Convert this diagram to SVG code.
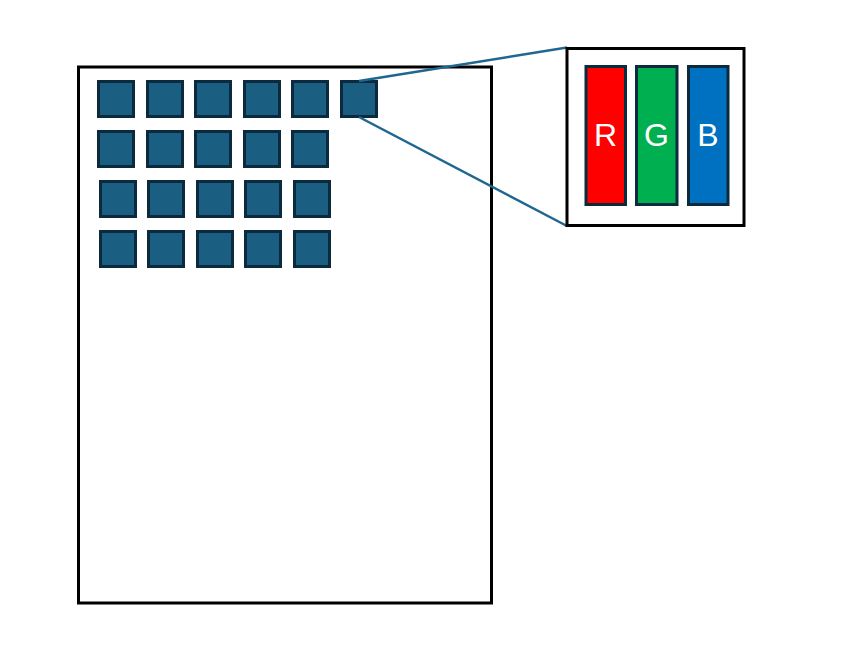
<svg xmlns="http://www.w3.org/2000/svg" width="866" height="670" viewBox="0 0 866 670">
<style>
.frame{fill:#fff;stroke:#000;stroke-width:3}
.px{fill:#1a5e82;stroke:#0c2a3e;stroke-width:3}
.sub{stroke:#0c2a3e;stroke-width:3}
.lbl{font-family:"Liberation Sans",Arial,sans-serif;font-size:32px;fill:#fff;text-anchor:middle}
.conn{stroke:#1f6690;stroke-width:2.5;fill:none}
</style>
<rect width="866" height="670" fill="#fff"/>
<g id="screen">
<rect class="frame" x="78.5" y="67" width="413" height="536"/>
</g>
<g id="pixels">
<rect class="px" x="98.5" y="81.5" width="35" height="35"/>
<rect class="px" x="147.5" y="81.5" width="35" height="35"/>
<rect class="px" x="195.5" y="81.5" width="35" height="35"/>
<rect class="px" x="244.5" y="81.5" width="35" height="35"/>
<rect class="px" x="292.5" y="81.5" width="35" height="35"/>
<rect class="px" x="341.5" y="81.5" width="35" height="35"/>
<rect class="px" x="98.5" y="131.5" width="35" height="35"/>
<rect class="px" x="147.5" y="131.5" width="35" height="35"/>
<rect class="px" x="195.5" y="131.5" width="35" height="35"/>
<rect class="px" x="244.5" y="131.5" width="35" height="35"/>
<rect class="px" x="292.5" y="131.5" width="35" height="35"/>
<rect class="px" x="100.5" y="181.5" width="35" height="35"/>
<rect class="px" x="148.5" y="181.5" width="35" height="35"/>
<rect class="px" x="197.5" y="181.5" width="35" height="35"/>
<rect class="px" x="245.5" y="181.5" width="35" height="35"/>
<rect class="px" x="294.5" y="181.5" width="35" height="35"/>
<rect class="px" x="100.5" y="231.5" width="35" height="35"/>
<rect class="px" x="148.5" y="231.5" width="35" height="35"/>
<rect class="px" x="197.5" y="231.5" width="35" height="35"/>
<rect class="px" x="245.5" y="231.5" width="35" height="35"/>
<rect class="px" x="294.5" y="231.5" width="35" height="35"/>
</g>
<g id="connectors">
<line class="conn" x1="359" y1="81" x2="567" y2="47.5"/>
<line class="conn" x1="359" y1="117" x2="567" y2="226"/>
</g>
<g id="zoom">
<rect class="frame" x="567" y="48.5" width="177" height="177"/>
<g id="R"><rect class="sub" x="586" y="66.5" width="39.5" height="138" fill="#ff0000"/><text class="lbl" x="605.5" y="146">R</text></g>
<g id="G"><rect class="sub" x="636.5" y="66.5" width="40.5" height="138" fill="#00b050"/><text class="lbl" x="656.5" y="146">G</text></g>
<g id="B"><rect class="sub" x="688.5" y="66.5" width="39.5" height="138" fill="#0070c0"/><text class="lbl" x="708" y="146">B</text></g>
</g>
</svg>
